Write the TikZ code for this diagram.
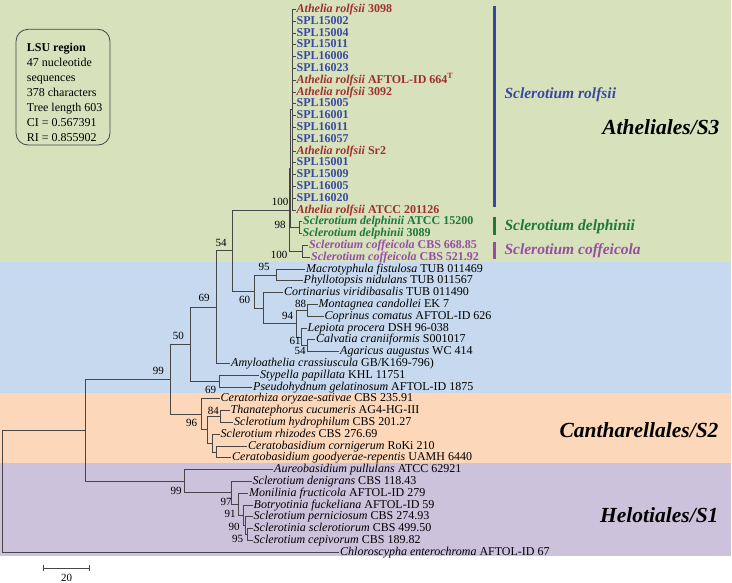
\documentclass[tikz,border=0pt]{standalone}
\usepackage{fontspec}
\setmainfont{Liberation Serif}
\usepackage{tikz}
\usetikzlibrary{arrows.meta,calc}
\definecolor{bandgreen}{RGB}{215,225,188}
\definecolor{bandblue}{RGB}{198,217,238}
\definecolor{bandorange}{RGB}{252,215,185}
\definecolor{bandpurple}{RGB}{205,194,220}
\definecolor{rolred}{RGB}{160,48,44}
\definecolor{splblue}{RGB}{56,74,160}
\definecolor{delgreen}{RGB}{30,120,58}
\definecolor{cofpurple}{RGB}{150,78,165}
\definecolor{branchgray}{RGB}{70,70,70}

\begin{document}
\begin{tikzpicture}[x=1pt,y=-1pt,
  br/.style={draw=branchgray, line width=0.9pt},
  tx/.style={anchor=west, inner sep=1pt, text height=8.5pt, text depth=2.5pt, font=\fontsize{12}{14}\selectfont},
  rolf/.style={tx, text=rolred, font=\fontsize{12}{14}\selectfont\bfseries},
  spl/.style={tx, text=splblue, font=\fontsize{12}{14}\selectfont\bfseries},
  delph/.style={tx, text=delgreen, font=\fontsize{12}{14}\selectfont\bfseries},
  coff/.style={tx, text=cofpurple, font=\fontsize{12}{14}\selectfont\bfseries},
  bs/.style={inner sep=0pt, font=\fontsize{11}{13}\selectfont},
  clade/.style={anchor=west, font=\fontsize{15.5}{18}\selectfont\bfseries\itshape},
  order/.style={anchor=east, font=\fontsize{21.5}{24}\selectfont\bfseries\itshape}]
  \useasboundingbox (0,0) rectangle (732,583);
  % Coloured bands
  \begin{scope}
    \fill[bandgreen] (0,0) rectangle (731,262.5);
    \fill[bandblue] (0,262.5) rectangle (731,393);
    \fill[bandorange] (0,393) rectangle (731,463);
    \fill[bandpurple] (0,463) rectangle (731,556);
  \end{scope}
  % Info box
  \node[draw=branchgray, line width=0.8pt, rounded corners=12pt, minimum width=94pt, minimum height=115.7pt] (infobox) at (63,87.15) {};
  \node[anchor=north west, align=left, inner sep=0pt, font=\fontsize{12}{15}\selectfont] (infotext) at (26.7,43.3)
    {\textbf{LSU region}\\47 nucleotide\\sequences\\378 characters\\Tree length 603\\CI = 0.567391\\RI = 0.855902};
  % Taxa: Atheliales
  \node[rolf] (t0) at (295.5,9.5) {\textit{Athelia rolfsii} 3098};
  \node[spl] (t1) at (295.5,21.3) {SPL15002};
  \node[spl] (t2) at (295.5,33.1) {SPL15004};
  \node[spl] (t3) at (295.5,44.9) {SPL15011};
  \node[spl] (t4) at (295.5,56.7) {SPL16006};
  \node[spl] (t5) at (295.5,68.5) {SPL16023};
  \node[rolf] (t6) at (295.5,80.3) {\textit{Athelia rolfsii} AFTOL-ID 664\textsuperscript{T}};
  \node[rolf] (t7) at (295.5,92.1) {\textit{Athelia rolfsii} 3092};
  \node[spl] (t8) at (295.5,103.9) {SPL15005};
  \node[spl] (t9) at (295.5,115.7) {SPL16001};
  \node[spl] (t10) at (295.5,127.5) {SPL16011};
  \node[spl] (t11) at (295.5,139.3) {SPL16057};
  \node[rolf] (t12) at (295.5,151.1) {\textit{Athelia rolfsii} Sr2};
  \node[spl] (t13) at (295.5,162.9) {SPL15001};
  \node[spl] (t14) at (295.5,174.7) {SPL15009};
  \node[spl] (t15) at (295.5,186.5) {SPL16005};
  \node[spl] (t16) at (295.5,198.3) {SPL16020};
  \node[rolf] (t17) at (295.5,210.1) {\textit{Athelia rolfsii} ATCC 201126};
  \node[delph] (t18) at (302,221.9) {\textit{Sclerotium delphinii} ATCC 15200};
  \node[delph] (t19) at (301.5,233.7) {\textit{Sclerotium delphinii} 3089};
  \node[coff] (t20) at (308,245.5) {\textit{Sclerotium coffeicola} CBS 668.85};
  \node[coff] (t21) at (310,257.3) {\textit{Sclerotium coffeicola} CBS 521.92};
  % Taxa: other Agaricomycetes
  \node[tx] (t22) at (305,269.1) {\textit{Macrotyphula fistulosa} TUB 011469};
  \node[tx] (t23) at (302.5,280.9) {\textit{Phyllotopsis nidulans} TUB 011567};
  \node[tx] (t24) at (283,292.7) {\textit{Cortinarius viridibasalis} TUB 011490};
  \node[tx] (t25) at (317.5,304.5) {\textit{Montagnea candollei} EK 7};
  \node[tx] (t26) at (323.5,316.3) {\textit{Coprinus comatus} AFTOL-ID 626};
  \node[tx] (t27) at (306.5,328.1) {\textit{Lepiota procera} DSH 96-038};
  \node[tx] (t28) at (315,339.9) {\textit{Calvatia craniiformis} S001017};
  \node[tx] (t29) at (339,351.7) {\textit{Agaricus augustus} WC 414};
  \node[tx] (t30) at (230,363.5) {\textit{Amyloathelia crassiuscula} GB/K169-796)};
  \node[tx] (t31) at (259,375.3) {\textit{Stypella papillata} KHL 11751};
  \node[tx] (t32) at (252,387.1) {\textit{Pseudohydnum gelatinosum} AFTOL-ID 1875};
  % Taxa: Cantharellales
  \node[tx] (t33) at (219.5,398.9) {\textit{Ceratorhiza oryzae-sativae} CBS 235.91};
  \node[tx] (t34) at (229.5,410.7) {\textit{Thanatephorus cucumeris} AG4-HG-III};
  \node[tx] (t35) at (233,422.5) {\textit{Sclerotium hydrophilum} CBS 201.27};
  \node[tx] (t36) at (219.5,434.3) {\textit{Sclerotium rhizodes} CBS 276.69};
  \node[tx] (t37) at (247,446.1) {\textit{Ceratobasidium cornigerum} RoKi 210};
  \node[tx] (t38) at (231,457.9) {\textit{Ceratobasidium goodyerae-repentis} UAMH 6440};
  % Taxa: Helotiales and outgroup
  \node[tx] (t39) at (273,469.7) {\textit{Aureobasidium pullulans} ATCC 62921};
  \node[tx] (t40) at (251.5,481.5) {\textit{Sclerotium denigrans} CBS 118.43};
  \node[tx] (t41) at (248,493.3) {\textit{Monilinia fructicola} AFTOL-ID 279};
  \node[tx] (t42) at (252.5,505.1) {\textit{Botryotinia fuckeliana} AFTOL-ID 59};
  \node[tx] (t43) at (252.5,516.9) {\textit{Sclerotium perniciosum} CBS 274.93};
  \node[tx] (t44) at (252.5,528.7) {\textit{Sclerotinia sclerotiorum} CBS 499.50};
  \node[tx] (t45) at (252.5,540.5) {\textit{Sclerotium cepivorum} CBS 189.82};
  \node[tx] (t46) at (339,552.3) {\textit{Chloroscypha enterochroma} AFTOL-ID 67};
  % Internal nodes
  \coordinate (root) at (2,491.3);
  \coordinate (nA) at (85.5,430.3);
  \coordinate (nB) at (170.7,379.3);
  \coordinate (nC) at (190.7,344.2);
  \coordinate (nD) at (216.7,307.2);
  \coordinate (nF) at (232.7,250.85);
  \coordinate (nG) at (289.3,210.1);
  \coordinate (nH) at (290.8,168.8);
  \coordinate (nRolf) at (292.3,109.8);
  \coordinate (nDel) at (299,227.8);
  \coordinate (nCof) at (302.3,251.4);
  \coordinate (nI) at (254,291.6);
  \coordinate (n95) at (276.7,275);
  \coordinate (nJ) at (263.5,308.2);
  \coordinate (nK) at (296.7,323.7);
  \coordinate (n88) at (307.5,310.4);
  \coordinate (n61) at (301.7,337);
  \coordinate (n54) at (307.3,345.8);
  \coordinate (nE) at (219.3,381.2);
  \coordinate (nL) at (201,414.4);
  \coordinate (nM) at (207.3,429.9);
  \coordinate (n84) at (220.7,416.6);
  \coordinate (nN) at (212,443.15);
  \coordinate (nO) at (216.7,452);
  \coordinate (nP) at (184.3,481.3);
  \coordinate (nQ) at (231,492.9);
  \coordinate (nR) at (238,504.35);
  \coordinate (nS) at (243,515.4);
  \coordinate (nT) at (245.5,525.75);
  \coordinate (nU) at (247.5,534.6);
  % Branches
  \draw[br] (root) |- (nA) (root) |- (t46.west);
  \draw[br] (nA) |- (nB) (nA) |- (nP);
  \draw[br] (nB) |- (nC) (nB) |- (nL);
  \draw[br] (nC) |- (nD) (nC) |- (nE);
  \draw[br] (nD) |- (nF) (nD) |- (t30.west);
  \draw[br] (nF) |- (nG) (nF) |- (nI);
  \draw[br] (nG) |- (nH) (nG) |- (nCof);
  \draw[br] (nH) |- (nRolf) (nH) |- (nDel);
  \foreach \i in {0,...,17}
    \draw[br] (nRolf) |- (t\i.west);
  \draw[br] (nDel) |- (t18.west) (nDel) |- (t19.west);
  \draw[br] (nCof) |- (t20.west) (nCof) |- (t21.west);
  \draw[br] (nI) |- (n95) (nI) |- (nJ);
  \draw[br] (n95) |- (t22.west) (n95) |- (t23.west);
  \draw[br] (nJ) |- (t24.west) (nJ) |- (nK);
  \draw[br] (nK) |- (n88) (nK) |- (n61);
  \draw[br] (n88) |- (t25.west) (n88) |- (t26.west);
  \draw[br] (n61) |- (t27.west) (n61) |- (n54);
  \draw[br] (n54) |- (t28.west) (n54) |- (t29.west);
  \draw[br] (nE) |- (t31.west) (nE) |- (t32.west);
  \draw[br] (nL) |- (t33.west) (nL) |- (nM);
  \draw[br] (nM) |- (n84) (nM) |- (nN);
  \draw[br] (n84) |- (t34.west) (n84) |- (t35.west);
  \draw[br] (nN) |- (t36.west) (nN) |- (nO);
  \draw[br] (nO) |- (t37.west) (nO) |- (t38.west);
  \draw[br] (nP) |- (t39.west) (nP) |- (nQ);
  \draw[br] (nQ) |- (t40.west) (nQ) |- (nR);
  \draw[br] (nR) |- (t41.west) (nR) |- (nS);
  \draw[br] (nS) |- (t42.west) (nS) |- (nT);
  \draw[br] (nT) |- (t43.west) (nT) |- (nU);
  \draw[br] (nU) |- (t44.west) (nU) |- (t45.west);
  % Bootstrap values
  \node[bs] (b1) at (280,201.7) {100};
  \node[bs] (b2) at (280,225) {98};
  \node[bs] (b3) at (279,255) {100};
  \node[bs] (b4) at (221,243) {54};
  \node[bs] (b5) at (264,266.7) {95};
  \node[bs] (b6) at (204,297.5) {69};
  \node[bs] (b7) at (244.5,299.5) {60};
  \node[bs] (b8) at (300.5,303.5) {88};
  \node[bs] (b9) at (287.5,315.5) {94};
  \node[bs] (b10) at (295,340.7) {61};
  \node[bs] (b11) at (300,351.3) {54};
  \node[bs] (b12) at (178.3,336) {50};
  \node[bs] (b13) at (210.7,390) {69};
  \node[bs] (b14) at (158.3,370.7) {99};
  \node[bs] (b15) at (191.7,422.7) {96};
  \node[bs] (b16) at (213.3,410.5) {84};
  \node[bs] (b17) at (176,491) {99};
  \node[bs] (b18) at (226,502) {97};
  \node[bs] (b19) at (230,514) {91};
  \node[bs] (b20) at (234,526.5) {90};
  \node[bs] (b21) at (237.5,538.5) {95};
  % Clade bars
  \draw[line width=3pt, splblue] (494,6) -- (494,206.7);
  \draw[line width=3pt, delgreen] (494,217.3) -- (494,235);
  \draw[line width=3pt, cofpurple] (494,241.7) -- (494,259.3);
  \node[clade, text=splblue] (crolf) at (501,94.3) {Sclerotium rolfsii};
  \node[clade, text=delgreen] (cdel) at (501,226.7) {Sclerotium delphinii};
  \node[clade, text=cofpurple] (ccof) at (501,250.7) {Sclerotium coffeicola};
  % Orders
  \node[order] (ord3) at (723,127.3) {Atheliales/S3};
  \node[order] (ord2) at (722,430) {Cantharellales/S2};
  \node[order] (ord1) at (722,515) {Helotiales/S1};
  % Scale bar
  \coordinate (sb0) at (43,568);
  \coordinate (sb1) at (90,568);
  \draw[br, {Bar[width=6pt]}-{Bar[width=6pt]}] (sb0) -- (sb1);
  \node[bs] (sblabel) at (66.5,578) {20};
\end{tikzpicture}
\end{document}
